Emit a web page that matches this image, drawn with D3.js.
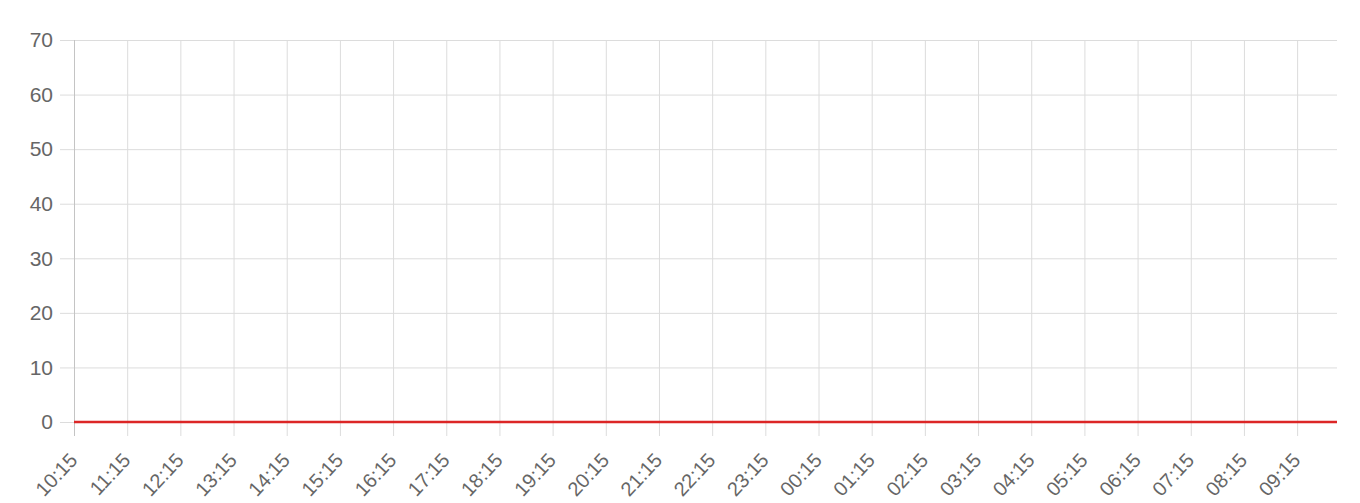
<!DOCTYPE html>
<html>
<head>
<meta charset="utf-8">
<script src="https://cdn.jsdelivr.net/npm/d3@7"></script>
<style>
  html, body { margin: 0; padding: 0; background: #fff; }
  svg { display: block; }
  text { font-family: "Liberation Sans", Arial, Helvetica, sans-serif; fill: #666; }
</style>
</head>
<body>
<svg id="chart" width="1360" height="503"></svg>
<script>
// one reading every 15 minutes, 10:15 to 10:00 next day
const times = [
  '10:15','10:30','10:45','11:00','11:15','11:30','11:45','12:00',
  '12:15','12:30','12:45','13:00','13:15','13:30','13:45','14:00',
  '14:15','14:30','14:45','15:00','15:15','15:30','15:45','16:00',
  '16:15','16:30','16:45','17:00','17:15','17:30','17:45','18:00',
  '18:15','18:30','18:45','19:00','19:15','19:30','19:45','20:00',
  '20:15','20:30','20:45','21:00','21:15','21:30','21:45','22:00',
  '22:15','22:30','22:45','23:00','23:15','23:30','23:45','00:00',
  '00:15','00:30','00:45','01:00','01:15','01:30','01:45','02:00',
  '02:15','02:30','02:45','03:00','03:15','03:30','03:45','04:00',
  '04:15','04:30','04:45','05:00','05:15','05:30','05:45','06:00',
  '06:15','06:30','06:45','07:00','07:15','07:30','07:45','08:00',
  '08:15','08:30','08:45','09:00','09:15','09:30','09:45','10:00'
]
const values = [
  0,0,0,0,0,0,0,0, 0,0,0,0,0,0,0,0, 0,0,0,0,0,0,0,0,
  0,0,0,0,0,0,0,0, 0,0,0,0,0,0,0,0, 0,0,0,0,0,0,0,0,
  0,0,0,0,0,0,0,0, 0,0,0,0,0,0,0,0, 0,0,0,0,0,0,0,0,
  0,0,0,0,0,0,0,0, 0,0,0,0,0,0,0,0, 0,0,0,0,0,0,0,0
]
const xTickLabels = [
  '10:15','11:15','12:15','13:15','14:15','15:15','16:15','17:15',
  '18:15','19:15','20:15','21:15','22:15','23:15','00:15','01:15',
  '02:15','03:15','04:15','05:15','06:15','07:15','08:15','09:15'
]
const yTicks = [0, 10, 20, 30, 40, 50, 60, 70]

const
  plotLeft = 74,
  plotRight = 1337,
  plotTop = 40,
  plotBottom = 422,
  tickLen = 14,
  gridColor = '#dcdcdc'

const svg = d3.select('#chart')

const x = d3.scalePoint()
  .domain(times)
  .range([plotLeft, plotRight])

const y = d3.scaleLinear()
  .domain([0, 70])
  .range([plotBottom, plotTop])

// horizontal grid + y labels
const yAxis = d3.axisLeft(y)
  .tickValues(yTicks)
  .tickSize(plotRight - plotLeft + tickLen)

svg.append('g')
  .attr('transform', 'translate(' + plotRight + ',0)')
  .call(yAxis)
  .call(g => g.select('.domain').remove())
  .call(g => g.selectAll('line').attr('stroke', gridColor))
  .call(g => g.selectAll('text')
    .attr('fill', '#5f5f5f')
    .attr('font-size', 21)
    .attr('x', -(plotRight - plotLeft + tickLen) - 7))

// vertical grid + x labels
const xAxis = d3.axisBottom(x)
  .tickValues(xTickLabels)
  .tickSize(plotBottom - plotTop + tickLen)

const gx = svg.append('g')
  .attr('transform', 'translate(0,' + plotTop + ')')
  .call(xAxis)

gx.select('.domain').remove()
gx.selectAll('line')
  .attr('stroke', d => d === xTickLabels[0] ? '#c4c4c4' : gridColor)
gx.selectAll('text')
  .attr('fill', '#5f5f5f')
  .attr('font-size', 20)
  .attr('y', 0)
  .attr('dy', 0)
  .attr('text-anchor', 'end')
  .attr('transform', 'translate(4,' + (plotBottom - plotTop + 39) + ') rotate(-47)')

// series
const line = d3.line()
  .x((d, i) => x(times[i]))
  .y(d => y(d))

svg.append('path')
  .datum(values)
  .attr('fill', 'none')
  .attr('stroke', '#dc2626')
  .attr('stroke-width', 2.5)
  .attr('d', line)
</script>
</body>
</html>
